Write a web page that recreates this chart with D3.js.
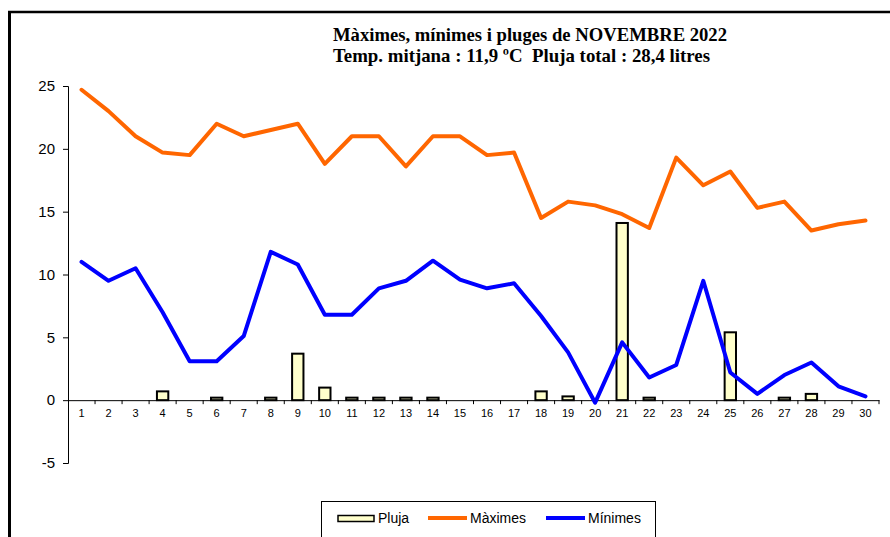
<!DOCTYPE html>
<html>
<head>
<meta charset="utf-8">
<script src="https://cdn.jsdelivr.net/npm/d3@7"></script>
<style>
  body { margin: 0; background: #fff; }
  svg { display: block; }
</style>
</head>
<body>
<div id="chart"></div>
<script>
// Data for November 2022
var days = d3.range(1, 31);
var maxTemps = [24.7, 23.0, 21.0, 19.7, 19.5, 22.0, 21.0, 21.5, 22.0, 18.8,
                21.0, 21.0, 18.6, 21.0, 21.0, 19.5, 19.7, 14.5, 15.8, 15.5,
                14.8, 13.7, 19.3, 17.1, 18.2, 15.3, 15.8, 13.5, 14.0, 14.3];
var minTemps = [11.0, 9.5, 10.5, 7.0, 3.1, 3.1, 5.1, 11.8, 10.8, 6.8,
                6.8, 8.9, 9.5, 11.1, 9.6, 8.9, 9.3, 6.7, 3.8, -0.2,
                4.6, 1.8, 2.8, 9.5, 2.2, 0.5, 2.0, 3.0, 1.1, 0.3];
var rain = [0, 0, 0, 0.7, 0, 0.2, 0, 0.2, 3.7, 1.0,
            0.2, 0.2, 0.2, 0.2, 0, 0, 0, 0.7, 0.3, 0,
            14.1, 0.2, 0, 0, 5.4, 0, 0.2, 0.5, 0, 0];
var yTicks = [-5, 0, 5, 10, 15, 20, 25];
var titleLines = ["Màximes, mínimes i pluges de NOVEMBRE 2022",
                  "Temp. mitjana : 11,9 ºC  Pluja total : 28,4 litres"];
var legendItems = ["Pluja", "Màximes", "Mínimes"];

var width = 890, height = 537;

var svg = d3.select("#chart").append("svg")
  .attr("width", width)
  .attr("height", height);

// outer frame (top + thick left edge)
svg.append("line")
  .attr("x1", 8).attr("x2", width)
  .attr("y1", 12).attr("y2", 12)
  .attr("stroke", "#000").attr("stroke-width", 2.5);
svg.append("line")
  .attr("x1", 9.5).attr("x2", 9.5)
  .attr("y1", 11).attr("y2", height)
  .attr("stroke", "#000").attr("stroke-width", 3);

// title
svg.selectAll(".title")
  .data(titleLines)
  .enter()
  .append("text")
  .attr("class", "title")
  .attr("x", 333)
  .attr("y", function(d, i) { return 41 + i * 21; })
  .attr("font-family", "'Liberation Serif', 'Times New Roman', serif")
  .attr("font-weight", "bold")
  .attr("font-size", "19px")
  .attr("textLength", function(d, i) { return i == 0 ? 394 : 377; })
  .attr("lengthAdjust", "spacingAndGlyphs")
  .style("white-space", "pre")
  .text(function(d) { return d; });

var x = d3.scaleBand().domain(days).range([68, 879]);
var y = d3.scaleLinear().domain([-5, 25]).range([463, 86]);
var barW = x.bandwidth() * 0.42;

// y axis
var yAxis = svg.append("g")
  .attr("transform", "translate(68,0)")
  .call(d3.axisLeft(y).tickValues(yTicks).tickSize(5).tickPadding(8)
    .tickFormat(function(d) { return String(d); }));
yAxis.select(".domain").attr("stroke", "#000");
yAxis.selectAll("text")
  .attr("font-family", "'Liberation Sans', Arial, sans-serif")
  .attr("font-size", "15px")
  .attr("fill", "#000");

// x axis at zero
var xAxis = svg.append("g")
  .attr("transform", "translate(0," + y(0) + ")")
  .call(d3.axisBottom(x).tickSize(0).tickPadding(9));
xAxis.select(".domain").attr("stroke", "#000").attr("stroke-width", 1);
xAxis.selectAll("text")
  .attr("font-family", "'Liberation Sans', Arial, sans-serif")
  .attr("font-size", "11px")
  .attr("fill", "#000");

// tick marks between categories
svg.append("g").selectAll("line")
  .data(days.slice(1).concat([31]))
  .enter()
  .append("line")
  .attr("x1", function(d) { return d <= 30 ? x(d) : x(30) + x.bandwidth(); })
  .attr("x2", function(d) { return d <= 30 ? x(d) : x(30) + x.bandwidth(); })
  .attr("y1", y(0))
  .attr("y2", y(0) + 4)
  .attr("stroke", "#000");

// rain bars
svg.append("g").selectAll("rect")
  .data(days.filter(function(d, i) { return rain[i] > 0; }))
  .enter()
  .append("rect")
  .attr("x", function(d) { return x(d) + (x.bandwidth() - barW) / 2; })
  .attr("y", function(d) { return y(rain[d - 1]); })
  .attr("width", barW)
  .attr("height", function(d) { return y(0) - y(rain[d - 1]); })
  .attr("fill", "#FFFFCC")
  .attr("stroke", "#000")
  .attr("stroke-width", 2);

var line = function(values) {
  return d3.line()
    .x(function(d) { return x(d) + x.bandwidth() / 2; })
    .y(function(d) { return y(values[d - 1]); })(days);
};

svg.append("path")
  .attr("d", line(maxTemps))
  .attr("fill", "none")
  .attr("stroke", "#FF6600")
  .attr("stroke-width", 4)
  .attr("stroke-linejoin", "round")
  .attr("stroke-linecap", "round");

svg.append("path")
  .attr("d", line(minTemps))
  .attr("fill", "none")
  .attr("stroke", "#0000FF")
  .attr("stroke-width", 4)
  .attr("stroke-linejoin", "round")
  .attr("stroke-linecap", "round");

// legend
var legend = svg.append("g");
legend.append("rect")
  .attr("x", 321.5).attr("y", 501.5)
  .attr("width", 334).attr("height", 50)
  .attr("fill", "#fff")
  .attr("stroke", "#000")
  .attr("stroke-width", 1);

legend.append("rect")
  .attr("x", 338).attr("y", 515.5)
  .attr("width", 36).attr("height", 6)
  .attr("fill", "#FFFFCC")
  .attr("stroke", "#000")
  .attr("stroke-width", 1.5);

var legendLines = [{x: 428, color: "#FF6600"}, {x: 546, color: "#0000FF"}];
legend.selectAll(".lg-line")
  .data(legendLines)
  .enter()
  .append("line")
  .attr("x1", function(d) { return d.x; })
  .attr("x2", function(d) { return d.x + 39; })
  .attr("y1", 518).attr("y2", 518)
  .attr("stroke", function(d) { return d.color; })
  .attr("stroke-width", 4);

var legendX = [378, 470, 588];
legend.selectAll(".lg-text")
  .data(legendItems)
  .enter()
  .append("text")
  .attr("x", function(d, i) { return legendX[i]; })
  .attr("y", 523)
  .attr("font-family", "'Liberation Sans', Arial, sans-serif")
  .attr("font-size", "14px")
  .text(function(d) { return d; });
</script>
</body>
</html>
